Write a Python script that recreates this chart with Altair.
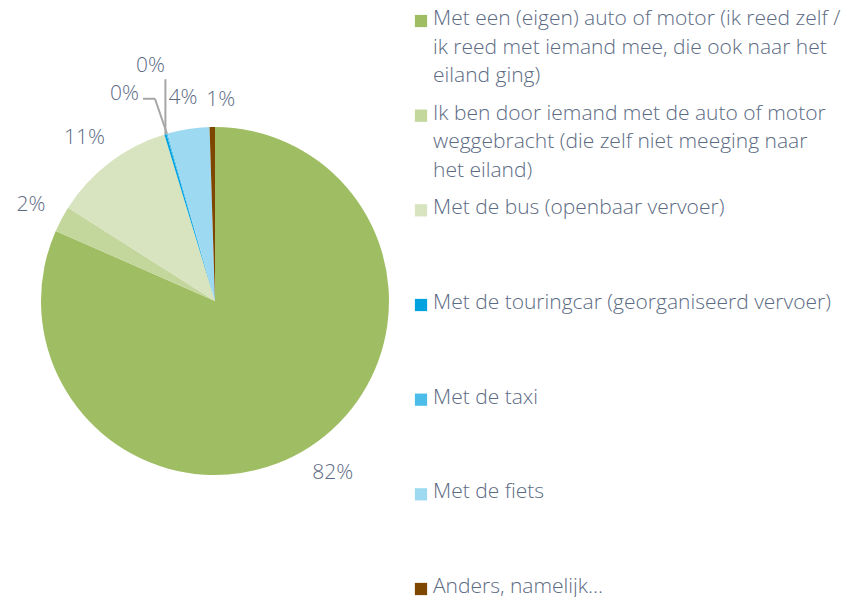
import altair as alt
import pandas as pd

categories = [
    "Met een (eigen) auto of motor (ik reed zelf / ik reed met iemand mee, die ook naar het eiland ging)",
    "Ik ben door iemand met de auto of motor weggebracht (die zelf niet meeging naar het eiland)",
    "Met de bus (openbaar vervoer)",
    "Met de touringcar (georganiseerd vervoer)",
    "Met de taxi",
    "Met de fiets",
    "Anders, namelijk...",
]
values = [81.6, 2.4, 11.3, 0.2, 0.1, 3.9, 0.5]
labels = ["82%", "2%", "11%", "0%", "0%", "4%", "1%"]
legend_text = [
    "Met een (eigen) auto of motor (ik reed zelf /\nik reed met iemand mee, die ook naar het\neiland ging)",
    "Ik ben door iemand met de auto of motor\nweggebracht (die zelf niet meeging naar\nhet eiland)",
    "Met de bus (openbaar vervoer)",
    "Met de touringcar (georganiseerd vervoer)",
    "Met de taxi",
    "Met de fiets",
    "Anders, namelijk\u2026",
]
colors = ["#9FBE63", "#C3D69B", "#D8E4BF", "#00A2DF", "#4BBDE8", "#9DDAF1", "#7E4700"]

df = pd.DataFrame({
    "cat": categories,
    "value": values,
    "label": labels,
    "legend": legend_text,
    "order": list(range(len(categories))),
})

FONT = "Open Sans"
FS = 21
TXT = "#5C6B84"
CX, CY, R = 207, 292, 174
R0 = 195

color = alt.Color("cat:N", scale=alt.Scale(domain=categories, range=colors), legend=None)
theta = alt.Theta("value:Q", stack=True)
order = alt.Order("order:Q", sort="ascending")

base = alt.Chart(df).encode(theta=theta, order=order)

arcs = base.mark_arc(radius=R).encode(color=color, x=alt.value(CX), y=alt.value(CY))

geo = (
    alt.Chart(df)
    .transform_window(cum="sum(value)", sort=[alt.SortField("order")], frame=[None, 0])
    .transform_joinaggregate(total="sum(value)")
    .transform_calculate(mid="(datum.cum - datum.value / 2) / datum.total * 2 * PI")
    .transform_calculate(
        ex=f"{CX} + {R} * sin(datum.mid)",
        ey=f"{CY} - {R} * cos(datum.mid)",
        lx=f"{CX} + {R0} * sin(datum.mid) + sin(datum.mid) * length(datum.label) * 6.8",
        ly=f"{CY} - {R0} * cos(datum.mid) - cos(datum.mid) * 10",
    )
)

text_style = dict(font=FONT, fontSize=FS, fontWeight=300, color=TXT)
label_enc = dict(x=alt.X("lx:Q", scale=None), y=alt.Y("ly:Q", scale=None), text="label:N")

main_labels = geo.transform_filter("datum.value >= 0.5 && datum.order != 6").mark_text(
    **text_style).encode(**label_enc)
other_label = geo.transform_filter(alt.datum.order == 6).mark_text(
    dx=9, dy=4, **text_style).encode(**label_enc)

tour = geo.transform_filter(alt.datum.order == 3)
taxi = geo.transform_filter(alt.datum.order == 4)

LINE = "#A6A6A6"
tour_line = tour.transform_calculate(ey2="datum.ey - 55").mark_rule(color=LINE, strokeWidth=2).encode(
    x=alt.X("ex:Q", scale=None), y=alt.Y("ey:Q", scale=None),
    x2="ex:Q", y2="ey2:Q",
)
tour_text = tour.transform_calculate(tx="datum.ex - 15", ty="datum.ey - 58").mark_text(
    baseline="bottom", **text_style
).encode(x=alt.X("tx:Q", scale=None), y=alt.Y("ty:Q", scale=None), text="label:N")

taxi_line1 = taxi.transform_calculate(ex2="datum.ex - 12", ey2="datum.ey - 35").mark_rule(
    color=LINE, strokeWidth=2).encode(
    x=alt.X("ex:Q", scale=None), y=alt.Y("ey:Q", scale=None), x2="ex2:Q", y2="ey2:Q",
)
taxi_line2 = taxi.transform_calculate(ex1="datum.ex - 12", ex2="datum.ex - 24", ey2="datum.ey - 35").mark_rule(
    color=LINE, strokeWidth=2).encode(
    x=alt.X("ex1:Q", scale=None), y=alt.Y("ey2:Q", scale=None), x2="ex2:Q", y2="ey2:Q",
)
taxi_text = taxi.transform_calculate(tx="datum.ex - 28", ty="datum.ey - 35").mark_text(
    align="right", baseline="bottom", dy=5, **text_style).encode(
    x=alt.X("tx:Q", scale=None), y=alt.Y("ty:Q", scale=None), text="label:N"
)

pie = alt.layer(arcs, main_labels, other_label, tour_line, taxi_line1, taxi_line2, tour_text, taxi_text).properties(
    width=405, height=586
)

ly = alt.Y("cat:N", scale=alt.Scale(type="point", domain=categories, range=[12, 580], padding=0), axis=None)
lbase = alt.Chart(df).encode(y=ly)
squares = lbase.mark_square(size=150, opacity=1, filled=True).encode(x=alt.value(8), color=color)
ltext = lbase.mark_text(
    align="left", baseline="top", lineBreak="\n", lineHeight=28.5, dy=-13, **text_style
).encode(x=alt.value(20), text="legend:N")
legend = alt.layer(squares, ltext).properties(width=420, height=586)

chart = alt.hconcat(pie, legend, spacing=0).properties(padding=0).configure_view(stroke=None)

chart.save("out.html", embed_options={"renderer": "svg", "actions": False})
